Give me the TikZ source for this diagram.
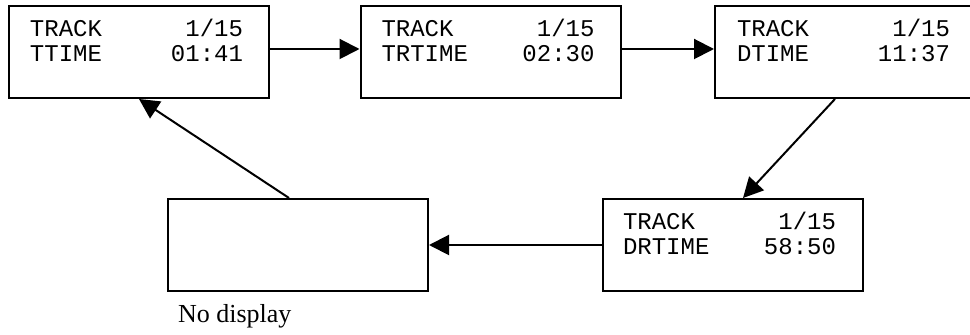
\documentclass[tikz,border=0pt]{standalone}
\usepackage{fontspec}
\setmainfont{Liberation Serif}
\setmonofont{Liberation Mono}
\usepackage{tikz}
\usetikzlibrary{arrows.meta,positioning,calc}
\tikzstyle{screen}=[draw,rectangle,minimum width=130pt,minimum height=46pt,inner sep=0pt]
\tikzstyle{readout}=[font=\ttfamily\fontsize{12}{12}\selectfont,inner sep=0pt,anchor=base west]
\newcommand{\lcdline}[2]{\makebox[106.5pt]{#1\hfill#2}}

\begin{document}
\begin{tikzpicture}[x=0.5pt,y=-0.5pt,line width=1pt,>={Triangle[length=10pt,width=10pt]}]
    \useasboundingbox (0,0) rectangle (970,335);
    \node [screen] (ttime) at (139,52) {};
    \node [screen] (trtime) at (490.5,52) {};
    \node [screen] (dtime) at (845,52) {};
    \node [screen] (blank) at (298,245) {};
    \node [screen] (drtime) at (733,245) {};

    \node [readout] (ttime-1) at ([xshift=10.5pt,yshift=-16pt]ttime.north west) {\lcdline{TRACK}{1/15}};
    \node [readout] (ttime-2) at ([yshift=-12.5pt]ttime-1.base west) {\lcdline{TTIME}{01:41}};
    \node [readout] (trtime-1) at ([xshift=10.5pt,yshift=-16pt]trtime.north west) {\lcdline{TRACK}{1/15}};
    \node [readout] (trtime-2) at ([yshift=-12.5pt]trtime-1.base west) {\lcdline{TRTIME}{02:30}};
    \node [readout] (dtime-1) at ([xshift=11pt,yshift=-16pt]dtime.north west) {\lcdline{TRACK}{1/15}};
    \node [readout] (dtime-2) at ([yshift=-12.5pt]dtime-1.base west) {\lcdline{DTIME}{11:37}};
    \node [readout] (drtime-1) at ([xshift=10pt,yshift=-16pt]drtime.north west) {\lcdline{TRACK}{1/15}};
    \node [readout] (drtime-2) at ([yshift=-12.5pt]drtime-1.base west) {\lcdline{DRTIME}{58:50}};
    \node [anchor=base west,inner sep=0pt,font=\fontsize{13}{13}\selectfont] (nodisplay) at (177,323) {No display};

    \draw [->] ([yshift=1.5pt]ttime.east) -- ([yshift=1.5pt]trtime.west);
    \draw [->] ([yshift=1.5pt]trtime.east) -- ([yshift=1.5pt]dtime.west);
    \draw [->] ([xshift=-5pt]dtime.south) -- ([xshift=5pt]drtime.north);
    \draw [->] (drtime.west) -- (blank.east);
    \draw [->] ([xshift=-4.5pt]blank.north) -- (ttime.south);
  \end{tikzpicture}
\end{document}
